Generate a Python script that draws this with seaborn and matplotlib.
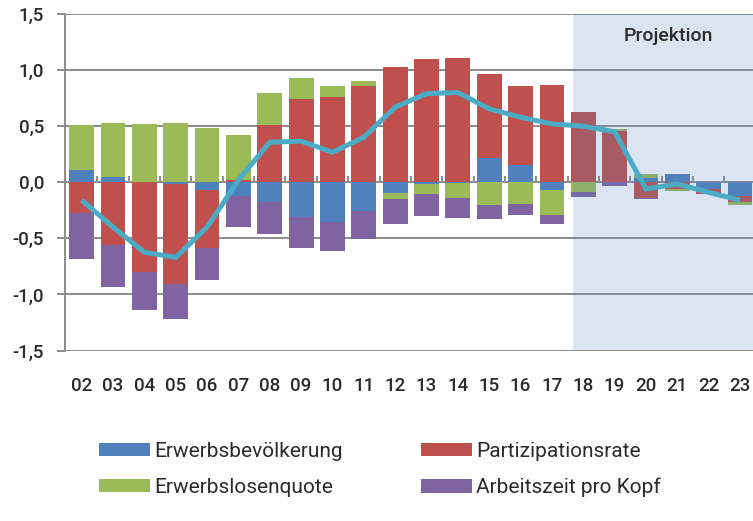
import numpy as np
import pandas as pd
import matplotlib
matplotlib.use("Agg")
import matplotlib.pyplot as plt
import seaborn as sns
from matplotlib.patches import Patch

years = ["02", "03", "04", "05", "06", "07", "08", "09", "10", "11", "12",
         "13", "14", "15", "16", "17", "18", "19", "20", "21", "22", "23"]
erwerbsbevoelkerung = [0.11, 0.05, 0.00, -0.02, -0.07, -0.12, -0.18, -0.31, -0.35, -0.26, -0.10,
                       -0.015, -0.01, 0.22, 0.155, -0.07, 0.00, 0.00, 0.04, 0.07, -0.06, -0.12]
partizipationsrate = [-0.27, -0.56, -0.80, -0.89, -0.52, 0.02, 0.506, 0.74, 0.76, 0.86, 1.03,
                      1.095, 1.107, 0.745, 0.70, 0.863, 0.625, 0.455, -0.14, -0.06, -0.045, -0.06]
erwerbslosenquote = [0.40, 0.48, 0.52, 0.53, 0.48, 0.40, 0.29, 0.19, 0.10, 0.04, -0.05,
                     -0.09, -0.13, -0.20, -0.19, -0.22, -0.09, 0.02, 0.03, -0.02, 0.00, -0.02]
arbeitszeit = [-0.415, -0.37, -0.34, -0.31, -0.285, -0.28, -0.28, -0.28, -0.26, -0.25, -0.22,
               -0.20, -0.18, -0.13, -0.10, -0.08, -0.04, -0.036, -0.01, 0.00, 0.00, 0.00]
insgesamt = [-0.16, -0.40, -0.625, -0.67, -0.40, 0.02, 0.357, 0.366, 0.268, 0.40, 0.67,
             0.79, 0.80, 0.655, 0.58, 0.52, 0.50, 0.45, -0.06, -0.015, -0.09, -0.16]

series_names = ["Erwerbsbevölkerung", "Partizipationsrate", "Erwerbslosenquote", "Arbeitszeit pro Kopf"]
series_vals = [erwerbsbevoelkerung, partizipationsrate, erwerbslosenquote, arbeitszeit]
colors = ["#4F81BD", "#C0504D", "#9BBB59", "#8064A2"]
line_color = "#4BACC6"
projection_start = "18"

sns.set_theme(style="white")
plt.rcParams["font.family"] = ["Roboto", "DejaVu Sans"]
text_color = "#2b2b2b"
grid_color = "#8c8c8c"

fig = plt.figure(figsize=(7.53, 5.21), dpi=100)
ax = fig.add_axes([65 / 753, 1 - 350.5 / 521, (753 - 65) / 753, (350.5 - 14) / 521])

n = len(years)
pos_base = np.zeros(n)
neg_base = np.zeros(n)
for name, vals, col in zip(series_names, series_vals, colors):
    v = np.array(vals, dtype=float)
    bottom = np.where(v >= 0, pos_base, neg_base)
    df = pd.DataFrame({"Jahr": years, "Wert": v})
    sns.barplot(data=df, x="Jahr", y="Wert", color=col, saturation=1, width=0.79,
                bottom=bottom, ax=ax, zorder=3, linewidth=0)
    pos_base = pos_base + np.where(v >= 0, v, 0)
    neg_base = neg_base + np.where(v < 0, v, 0)

# projection shading (drawn semi-transparent over bars, under line)
x0 = years.index(projection_start) - 0.34
ax.axvspan(x0, n, color="#5585C0", alpha=0.21, zorder=4, lw=0)

sns.lineplot(x=np.arange(n), y=insgesamt, color=line_color, linewidth=3.6, ax=ax,
             zorder=6, solid_joinstyle="miter", solid_capstyle="butt")
if ax.get_legend() is not None:
    ax.get_legend().remove()

ax.set_xlim(-0.533, 21.415)
ax.set_ylim(-1.5, 1.5)
yt = [-1.5, -1.0, -0.5, 0.0, 0.5, 1.0, 1.5]
ax.set_yticks(yt)
ax.set_yticklabels([f"{t:.1f}".replace(".", ",") for t in yt])
ax.yaxis.grid(True, color=grid_color, linewidth=1.4, zorder=1)
ax.set_axisbelow(True)
ax.set_xlabel("")
ax.set_ylabel("")
for s in ["top", "right", "bottom"]:
    ax.spines[s].set_visible(False)
ax.spines["left"].set_color(grid_color)
ax.spines["left"].set_linewidth(1.4)
ax.tick_params(axis="y", length=6, width=1.4, color=grid_color, pad=9,
               labelsize=13.5, labelcolor=text_color, left=True)
ax.tick_params(axis="x", length=0, pad=19, labelsize=13.5, labelcolor=text_color)
for lab in ax.get_yticklabels() + ax.get_xticklabels():
    lab.set_fontweight("medium")

# category tick marks along the zero line
sec = ax.secondary_xaxis(0.5)
sec.set_xticks(np.arange(n - 1) + 0.5)
sec.tick_params(axis="x", direction="out", length=4, width=1.4, color=grid_color,
                labelbottom=False, labeltop=False)
sec.spines["bottom"].set_visible(False)
sec.spines["top"].set_visible(False)

ax.text(18.72, 1.30, "Projektion", ha="center", va="center", fontsize=14,
        color=text_color, zorder=7, fontweight="medium")

leg_handles = [Patch(facecolor=c, edgecolor="none") for c in colors]
order = [0, 2, 1, 3]
leg = fig.legend([leg_handles[i] for i in order], [series_names[i] for i in order],
                 loc="upper left", bbox_to_anchor=(99 / 753, 1 - 442 / 521), ncol=2,
                 frameon=False, fontsize=15, handlelength=2.45, handleheight=0.62,
                 handletextpad=0.2, columnspacing=3.75, labelspacing=0.8, borderpad=0,
                 borderaxespad=0)
for t in leg.get_texts():
    t.set_color(text_color)

fig.savefig("out.png", dpi=100)
